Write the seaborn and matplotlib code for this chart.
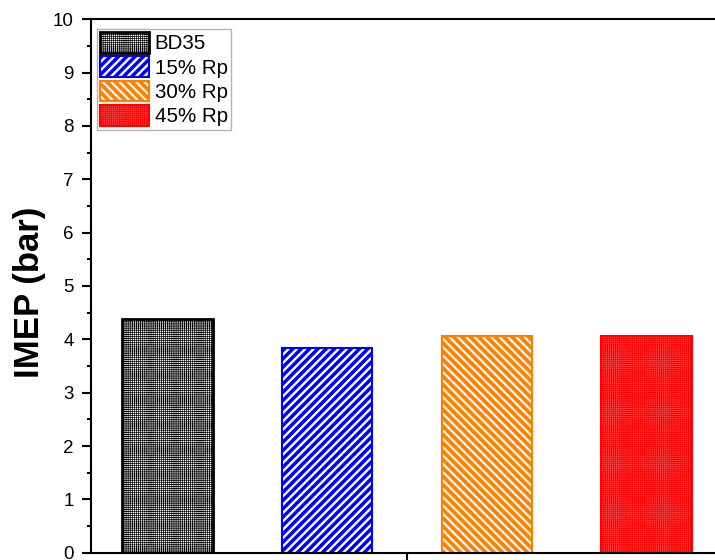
import matplotlib
matplotlib.use("Agg")
import matplotlib.pyplot as plt
from matplotlib.patches import Patch
from matplotlib.ticker import MultipleLocator
import pandas as pd
import seaborn as sns

# IMEP for each fuel blend
fuels = ["BD35", "15% Rp", "30% Rp", "45% Rp"]
imep = [4.38, 3.83, 4.07, 4.07]
group = ["IMEP"] * len(fuels)

edge_colors = ["#000000", "#0000ff", "#ff8000", "#ff0000"]
face_colors = ["#ffffff", "#ffffff", "#ffffff", "#ff5050"]
hatches = ["++++++++", "////", "\\\\\\\\", "++++++++"]
hatch_widths = [0.5, 2.5, 2.7, 0.55]
edge_widths = [2.0, 1.5, 1.5, 1.5]

sns.set_theme(style="ticks")
plt.rcParams["font.family"] = ["Liberation Sans", "DejaVu Sans"]
plt.rcParams["text.color"] = "black"
plt.rcParams["axes.labelcolor"] = "black"

df = pd.DataFrame({"group": group, "imep": imep, "fuel": fuels})

fig = plt.figure(figsize=(7.15, 5.6), dpi=100)
ax = fig.add_axes([91 / 715, 7.3 / 560, 632 / 715, 533.4 / 560])

sns.barplot(data=df, x="group", y="imep", hue="fuel", hue_order=fuels,
            palette=edge_colors, width=0.8, gap=0.434, legend=False,
            errorbar=None, ax=ax)


def set_hatch_width(artist, w):
    """Give one patch its own hatch line width."""
    artist._hatch_linewidth = w
    orig_draw = artist.draw

    def draw(renderer):
        with plt.rc_context({"hatch.linewidth": w}):
            orig_draw(renderer)

    artist.draw = draw


def style_patch(p, i):
    p.set_facecolor(face_colors[i])
    p.set_edgecolor(edge_colors[i])
    p.set_hatch(hatches[i])
    p.set_linewidth(edge_widths[i])
    set_hatch_width(p, hatch_widths[i])


for i, cont in enumerate(ax.containers):
    for p in cont:
        style_patch(p, i)

ax.set_ylim(0, 10)
ax.set_xlim(-0.3955, 0.3955)
ax.yaxis.set_major_locator(MultipleLocator(1))
ax.yaxis.set_minor_locator(MultipleLocator(0.5))
ax.set_xticks([0])
ax.set_xticklabels([""])
ax.set_xlabel("")
ax.set_ylabel("IMEP (bar)", fontsize=25, fontweight="bold", color="black")
ax.yaxis.set_label_coords(-0.0712, 0.489)

for side in ["left", "bottom", "top", "right"]:
    ax.spines[side].set_visible(True)
    ax.spines[side].set_linewidth(1.5)
    ax.spines[side].set_color("black")

ax.tick_params(axis="y", which="major", direction="out", length=6.5, width=1.5,
               labelsize=13.5, pad=6, colors="black")
ax.tick_params(axis="y", which="minor", direction="out", length=3, width=1.5,
               colors="black")
ax.tick_params(axis="x", which="major", direction="out", length=7, width=1.5,
               colors="black")

handles = [Patch(facecolor=face_colors[i], edgecolor=edge_colors[i],
                 hatch=hatches[i], linewidth=edge_widths[i], label=name)
           for i, name in enumerate(fuels)]

leg = ax.legend(handles=handles, loc="upper left",
                bbox_to_anchor=(97 / 715, 1 - 29 / 560),
                bbox_transform=fig.transFigure, borderaxespad=0,
                fontsize=14.8, frameon=True, fancybox=False,
                handlelength=2.4, handleheight=1.17, handletextpad=0.25,
                labelspacing=0.15, borderpad=0.15)
leg.get_frame().set_edgecolor("#a0a0a0")
leg.get_frame().set_linewidth(1.0)
for t in leg.get_texts():
    t.set_color("black")
for i, h in enumerate(leg.legend_handles):
    set_hatch_width(h, hatch_widths[i])

fig.savefig("out.png", dpi=100)
